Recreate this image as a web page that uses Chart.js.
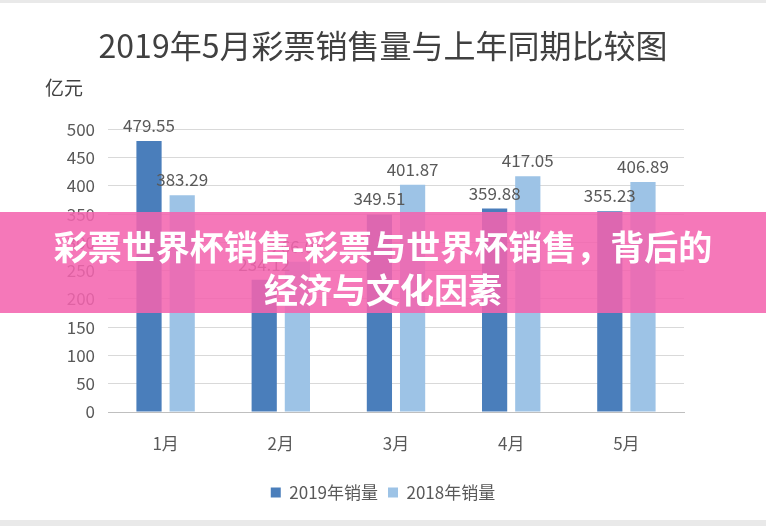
<!DOCTYPE html>
<html>
<head>
<meta charset="utf-8">
<script src="https://cdn.jsdelivr.net/npm/chart.js@4"></script>
<style>
  body { margin: 0; background: #fff; }
  #wrap { position: relative; width: 766px; height: 526px; overflow: hidden; }
  #banner {
    position: absolute; left: 0; top: 212px; width: 766px; height: 101px;
    background: rgba(243, 100, 175, 0.87);
    color: #fff; font-family: 'Noto Sans CJK SC', sans-serif; font-weight: bold;
    font-size: 34px; line-height: 43px; text-align: center;
    padding-top: 12px; box-sizing: border-box;
  }
  .edge { position: absolute; left: 0; width: 766px; background: #e9e9e9; }
</style>
</head>
<body>
<div id="wrap">
  <canvas id="chart" width="766" height="526"></canvas>
  <div class="edge" style="top:0;height:3px"></div>
  <div class="edge" style="top:520px;height:6px"></div>
  <div id="banner">彩票世界杯销售-彩票与世界杯销售，背后的<br>经济与文化因素</div>
</div>
<script>
const months = ['1月', '2月', '3月', '4月', '5月'];
const sales2019 = [479.55, 234.12, 349.51, 359.88, 355.23];
const sales2018 = [383.29, 266.04, 401.87, 417.05, 406.89];
const yTicks = [0, 50, 100, 150, 200, 250, 300, 350, 400, 450, 500];

const fontFamily = "'Noto Sans CJK SC', 'Liberation Sans', sans-serif";

// draws the value above each bar and the unit label
const valueLabels = {
  id: 'valueLabels',
  afterDatasetsDraw(chart) {
    const ctx = chart.ctx;
    ctx.save();
    ctx.font = '17px ' + fontFamily;
    ctx.fillStyle = '#595959';
    ctx.textAlign = 'center';
    ctx.textBaseline = 'bottom';
    chart.data.datasets.forEach((ds, i) => {
      chart.getDatasetMeta(i).data.forEach((bar, j) => {
        ctx.fillText(ds.data[j].toFixed(2), bar.x, bar.y - 7);
      });
    });
    ctx.font = '19px ' + fontFamily;
    ctx.fillStyle = '#404040';
    ctx.textAlign = 'left';
    ctx.textBaseline = 'middle';
    ctx.fillText('亿元', 45, 88);
    ctx.restore();
  }
};

new Chart(document.getElementById('chart'), {
  type: 'bar',
  data: {
    labels: months,
    datasets: [
      { label: '2019年销量', data: sales2019, backgroundColor: '#4a7ebb' },
      { label: '2018年销量', data: sales2018, backgroundColor: '#9dc3e6' }
    ]
  },
  options: {
    responsive: false,
    animation: false,
    layout: { padding: { top: 12, right: 0, bottom: 15, left: 0 } },
    datasets: { bar: { categoryPercentage: 0.576, barPercentage: 0.76 } },
    plugins: {
      title: {
        display: true,
        text: '2019年5月彩票销售量与上年同期比较图',
        color: '#404040',
        font: { family: fontFamily, size: 32, weight: 'normal' },
        padding: { top: 15, bottom: 64 }
      },
      legend: {
        position: 'bottom',
        labels: {
          color: '#595959',
          font: { family: fontFamily, size: 17 },
          boxWidth: 10,
          boxHeight: 10,
          padding: 10
        }
      },
      tooltip: { enabled: false }
    },
    scales: {
      x: {
        grid: { display: false },
        border: { color: '#bfbfbf' },
        ticks: { color: '#595959', font: { family: fontFamily, size: 17 }, padding: 13 },
        afterFit(scale) { scale.height = 62; }
      },
      y: {
        min: 0,
        max: 500,
        afterBuildTicks(scale) { scale.ticks = yTicks.map(v => ({ value: v })); },
        grid: { color: '#d9d9d9', drawTicks: false },
        border: { display: false },
        ticks: { color: '#595959', font: { family: fontFamily, size: 17 }, padding: 13 },
        afterFit(scale) { scale.width = 108; }
      },
      // empty right-hand margin so the plot ends where the reference does
      side: {
        position: 'right',
        min: 0,
        max: 500,
        grid: { display: false },
        border: { display: false },
        ticks: { display: false },
        afterFit(scale) { scale.width = 82; }
      }
    }
  },
  plugins: [valueLabels]
});
</script>
</body>
</html>
